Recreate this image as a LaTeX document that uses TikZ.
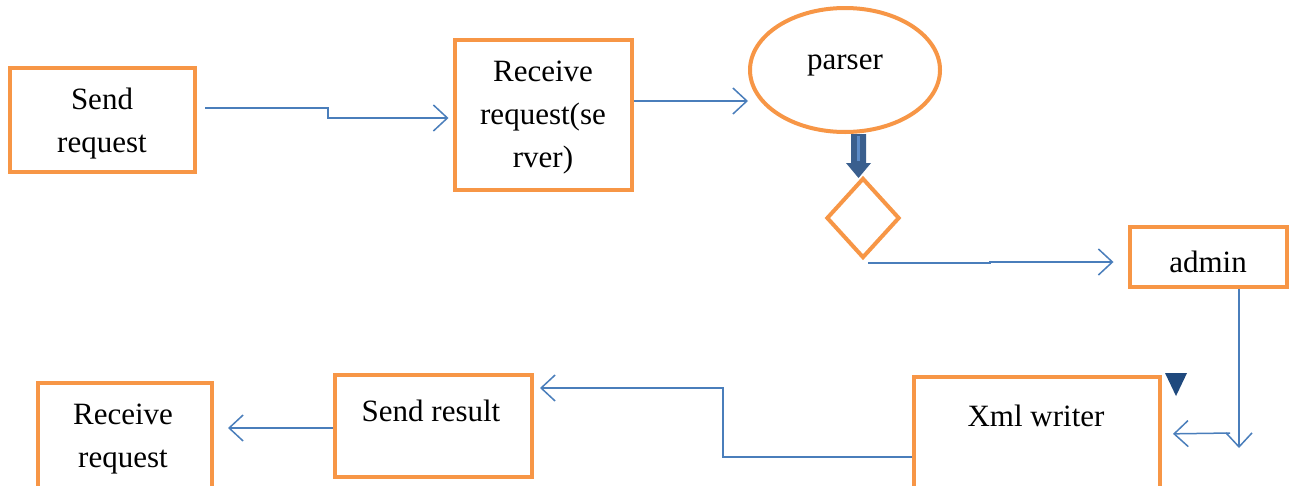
\documentclass[tikz,border=0pt]{standalone}
\usepackage{fontspec}
\setmainfont{Liberation Serif}
\usetikzlibrary{arrows.meta,shapes.geometric}
\definecolor{boxorange}{HTML}{F79646}
\definecolor{lineblue}{HTML}{4A7EBB}
\definecolor{darkblue}{HTML}{1F497D}
\definecolor{fatblue}{HTML}{3A5F8E}
\definecolor{fatlight}{HTML}{5B8BC8}
\tikzset{
  stepbox/.style={draw=boxorange, line width=4pt, rectangle, inner sep=0pt},
  label text/.style={align=center, font=\fontsize{31}{43}\selectfont, inner sep=0pt},
  link/.style={draw=lineblue, line width=1.5pt,
    -{Straight Barb[length=14pt, width=26pt, line width=1.5pt]}},
}
\begin{document}
\begin{tikzpicture}[x=1pt,y=-1pt]
\useasboundingbox (0,0) rectangle (1292,485);
\fill[white] (0,0) rectangle (1292,485);

% process boxes and their captions
\node[stepbox, minimum width=185, minimum height=104] (send) at (102,120) {};
\node[label text] (sendtext) at (102,124) {Send\\request};
\node[stepbox, minimum width=177, minimum height=150] (recv) at (543,115) {};
\node[label text] (recvtext) at (543,118) {Receive\\request(se\\rver)};
\node[draw=boxorange, line width=4pt, ellipse, minimum width=190, minimum height=124] (parser) at (845,70) {};
\node[label text] (parsertext) at (845,65) {parser};
\node[draw=boxorange, line width=4pt, diamond, minimum width=73, minimum height=80, inner sep=0pt] (dec) at (863,218) {};
\node[stepbox, minimum width=157, minimum height=60] (admin) at (1208,257) {};
\node[label text] (admintext) at (1208,262) {admin};
\node[stepbox, minimum width=246, minimum height=125, anchor=north west] (xml) at (912,375) {};
\node[label text] (xmltext) at (1036,416) {Xml writer};
\node[stepbox, minimum width=197, minimum height=102, anchor=north west] (result) at (333,373) {};
\node[label text] (resulttext) at (431,411) {Send result};
\node[stepbox, minimum width=174, minimum height=115, anchor=north west] (final) at (36,381) {};
\node[label text] (finaltext) at (123,439) {Receive\\request};

% fat arrow from parser to decision
\fill[fatblue] (851,134) -- (866,134) -- (866,163) -- (871,163) -- (858.5,178)
  -- (846,163) -- (851,163) -- cycle;
\fill[fatlight] (857,136) rectangle (860,161);

% marker triangle
\fill[darkblue] (1165,373) -- (1187,373) -- (1176,396) -- cycle;

% connectors
\coordinate (a1) at (205,108);
\draw[link, shorten >=4pt] (a1) -- (328,108) -- (328,118) -- (recv.west |- 0,118);
\draw[link] (recv.east |- 0,101) -- (parser.west |- 0,101);
\coordinate (d1) at (868,263);
\draw[link, shorten >=14pt] (d1) -- (990,263) -- (990,262) -- (admin.west |- 0,262);
\coordinate (dn) at (1239,448);
\draw[link] (admin.south -| 1239,0) -- (dn);
\coordinate (lt) at (1230,433);
\draw[link, shorten >=11pt] (lt) -- (xml.east |- 0,434);
\draw[link, shorten >=6pt] (xml.west |- 0,457) -- (723,457) -- (723,388) -- (result.east |- 0,388);
\draw[link, shorten >=14pt] (result.west |- 0,428) -- (final.east |- 0,428);
\end{tikzpicture}
\end{document}
